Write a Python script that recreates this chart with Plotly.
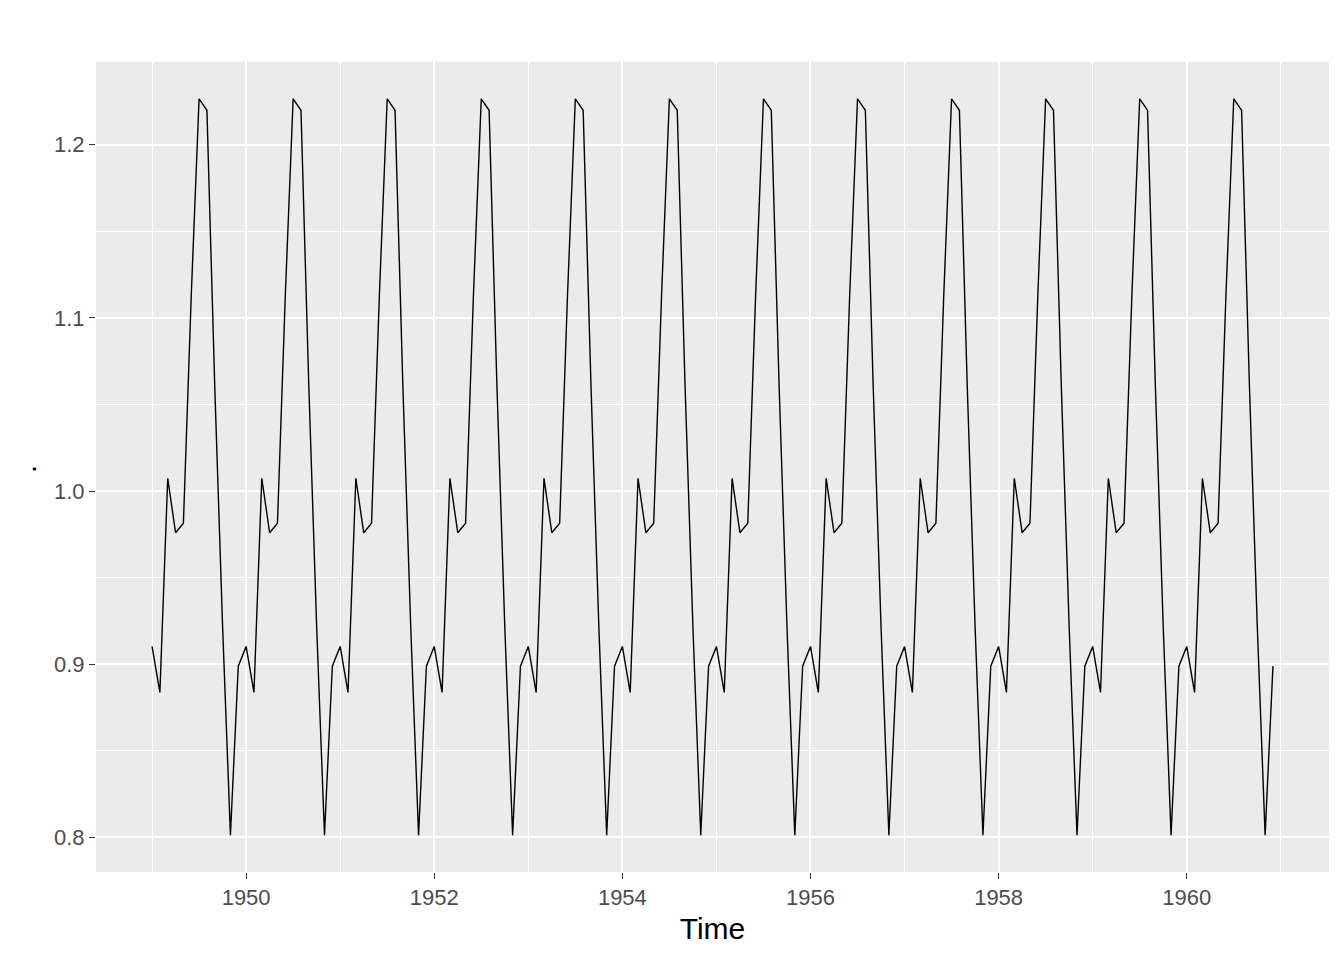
import plotly.graph_objects as go

# Seasonal factors (Jan..Dec), repeated each year 1949-1960
seasonal_factors = [0.9102304, 0.8836253, 1.0073663, 0.9759060, 0.9813780, 1.1127758,
                    1.2265555, 1.2199110, 1.0604919, 0.9217572, 0.8011781, 0.8988244]
years = list(range(1949, 1961))
x_tick_vals = [1950, 1952, 1954, 1956, 1958, 1960]
y_tick_vals = [0.8, 0.9, 1.0, 1.1, 1.2]

times = []
values = []
for y in years:
    for m, v in enumerate(seasonal_factors):
        times.append(y + m / 12)
        values.append(v)

fig = go.Figure()
fig.add_trace(go.Scatter(x=times, y=values, mode="lines",
                         line=dict(color="black", width=1.4), showlegend=False))

xr = [times[0], times[-1]]
xpad = (xr[1] - xr[0]) * 0.05
yr = [min(values), max(values)]
ypad = (yr[1] - yr[0]) * 0.05

FONT = "Liberation Sans, Arial"
grid = dict(showgrid=True, gridcolor="white", gridwidth=1.8,
            ticks="outside", ticklen=6, tickwidth=1.4, tickcolor="#333333",
            tickfont=dict(family=FONT, size=22, color="#4D4D4D"),
            zeroline=False, showline=False,
            minor=dict(showgrid=True, gridcolor="white", gridwidth=0.8))

fig.update_xaxes(range=[xr[0] - xpad, xr[1] + xpad], tickvals=x_tick_vals,
                 ticktext=[str(v) for v in x_tick_vals],
                 title=dict(text="Time", font=dict(family=FONT, size=30, color="black"), standoff=8),
                 **grid)
fig.update_xaxes(minor=dict(tickvals=[1949, 1951, 1953, 1955, 1957, 1959, 1961], ticks=""))
fig.update_yaxes(range=[yr[0] - ypad, yr[1] + ypad], tickvals=y_tick_vals,
                 ticktext=["0.8", "0.9", "1.0", "1.1", "1.2"], **grid)
fig.update_yaxes(minor=dict(tickvals=[0.85, 0.95, 1.05, 1.15], ticks=""))

fig.add_annotation(text=".", xref="paper", yref="paper", x=(8 - 96) / 1233, y=(872 - 469) / 810,
                   showarrow=False, textangle=-90,
                   font=dict(family=FONT, size=29, color="black"))

# page body has an 8px margin; compensate so the panel sits where the reference has it
fig.update_layout(width=1328, height=944, paper_bgcolor="white", plot_bgcolor="#EBEBEB",
                  margin=dict(l=88, r=7, t=54, b=80))

fig.write_html("out.html")
